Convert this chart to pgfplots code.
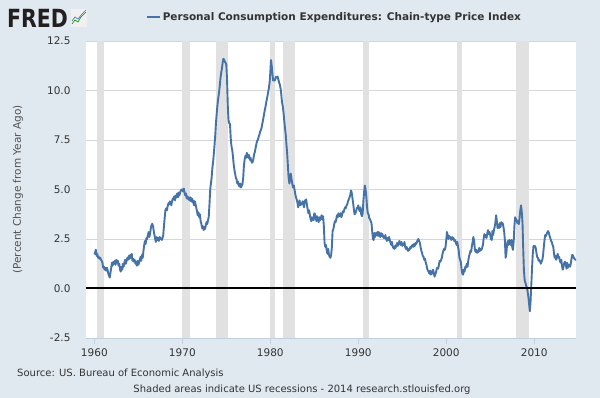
\documentclass[border=0pt]{standalone}
\usepackage{pgfplots}
\pgfplotsset{compat=1.18}
\usepackage{pgfplotstable}
\usepackage{graphicx}
\usepackage{fontspec}
\setmainfont{DejaVu Sans}
\definecolor{bgcol}{HTML}{E1E9F0}
\definecolor{linecol}{HTML}{4572A7}
\definecolor{recess}{HTML}{E1E1E1}
\definecolor{gridcol}{HTML}{D6D6D6}
\definecolor{txt}{HTML}{333333}
\definecolor{axcol}{HTML}{C0D0E0}
\definecolor{fredblack}{HTML}{231F20}

\pgfplotstableread[row sep=\\]{
x y\\
1960.00 1.72\\ 1960.08 1.80\\ 1960.17 1.96\\ 1960.25 1.65\\ 1960.33 1.75\\ 1960.42 1.55\\ 1960.50 1.60\\ 1960.58 1.50\\ 1960.67 1.55\\ 1960.75 1.45\\ 1960.83 1.40\\ 1960.92 1.30\\
1961.00 1.05\\ 1961.08 1.10\\ 1961.17 0.95\\ 1961.25 1.05\\ 1961.33 0.90\\ 1961.42 1.05\\ 1961.50 0.95\\ 1961.58 0.75\\ 1961.67 0.65\\ 1961.75 0.55\\ 1961.83 0.80\\ 1961.92 1.05\\
1962.00 1.30\\ 1962.08 1.15\\ 1962.17 1.35\\ 1962.25 1.25\\ 1962.33 1.40\\ 1962.42 1.20\\ 1962.50 1.45\\ 1962.58 1.30\\ 1962.67 1.40\\ 1962.75 1.15\\ 1962.83 1.25\\ 1962.92 0.95\\
1963.00 0.85\\ 1963.08 1.10\\ 1963.17 0.95\\ 1963.25 1.25\\ 1963.33 1.10\\ 1963.42 1.30\\ 1963.50 1.45\\ 1963.58 1.25\\ 1963.67 1.40\\ 1963.75 1.55\\ 1963.83 1.45\\ 1963.92 1.65\\
1964.00 1.50\\ 1964.08 1.70\\ 1964.17 1.55\\ 1964.25 1.75\\ 1964.33 1.40\\ 1964.42 1.50\\ 1964.50 1.35\\ 1964.58 1.45\\ 1964.67 1.25\\ 1964.75 1.35\\ 1964.83 1.15\\ 1964.92 1.40\\
1965.00 1.20\\ 1965.08 1.30\\ 1965.17 1.45\\ 1965.25 1.60\\ 1965.33 1.40\\ 1965.42 1.70\\ 1965.50 1.55\\ 1965.58 1.90\\ 1965.67 2.20\\ 1965.75 2.40\\ 1965.83 2.25\\ 1965.92 2.55\\
1966.00 2.50\\ 1966.08 2.70\\ 1966.17 2.85\\ 1966.25 2.60\\ 1966.33 2.75\\ 1966.42 3.05\\ 1966.50 3.20\\ 1966.58 3.27\\ 1966.67 3.15\\ 1966.75 2.90\\ 1966.83 2.70\\ 1966.92 2.50\\
1967.00 2.35\\ 1967.08 2.60\\ 1967.17 2.45\\ 1967.25 2.55\\ 1967.33 2.40\\ 1967.42 2.60\\ 1967.50 2.55\\ 1967.58 2.50\\ 1967.67 2.45\\ 1967.75 2.55\\ 1967.83 2.70\\ 1967.92 3.20\\
1968.00 3.60\\ 1968.08 3.95\\ 1968.17 4.05\\ 1968.25 3.95\\ 1968.33 4.15\\ 1968.42 4.30\\ 1968.50 4.25\\ 1968.58 4.40\\ 1968.67 4.30\\ 1968.75 4.20\\ 1968.83 4.40\\ 1968.92 4.55\\
1969.00 4.50\\ 1969.08 4.65\\ 1969.17 4.45\\ 1969.25 4.70\\ 1969.33 4.60\\ 1969.42 4.80\\ 1969.50 4.60\\ 1969.58 4.85\\ 1969.67 4.70\\ 1969.75 4.85\\ 1969.83 4.95\\ 1969.92 5.00\\
1970.00 5.00\\ 1970.08 4.90\\ 1970.17 5.05\\ 1970.25 4.85\\ 1970.33 4.70\\ 1970.42 4.80\\ 1970.50 4.55\\ 1970.58 4.65\\ 1970.67 4.50\\ 1970.75 4.60\\ 1970.83 4.45\\ 1970.92 4.60\\
1971.00 4.40\\ 1971.08 4.55\\ 1971.17 4.35\\ 1971.25 4.45\\ 1971.33 4.20\\ 1971.42 4.40\\ 1971.50 4.25\\ 1971.58 4.10\\ 1971.67 3.90\\ 1971.75 3.70\\ 1971.83 3.85\\ 1971.92 3.60\\
1972.00 3.75\\ 1972.08 3.40\\ 1972.17 3.25\\ 1972.25 3.05\\ 1972.33 3.15\\ 1972.42 2.95\\ 1972.50 3.10\\ 1972.58 3.00\\ 1972.67 3.20\\ 1972.75 3.35\\ 1972.83 3.25\\ 1972.92 3.45\\
1973.00 3.60\\ 1973.08 4.20\\ 1973.17 5.00\\ 1973.25 5.30\\ 1973.33 5.60\\ 1973.42 6.10\\ 1973.50 6.40\\ 1973.58 6.80\\ 1973.67 7.30\\ 1973.75 7.80\\ 1973.83 8.40\\ 1973.92 8.90\\
1974.00 9.30\\ 1974.08 9.60\\ 1974.17 9.90\\ 1974.25 10.20\\ 1974.33 10.60\\ 1974.42 10.90\\ 1974.50 11.10\\ 1974.58 11.40\\ 1974.67 11.60\\ 1974.75 11.55\\ 1974.83 11.45\\ 1974.92 11.40\\
1975.00 11.30\\ 1975.08 10.60\\ 1975.17 9.20\\ 1975.25 8.50\\ 1975.33 8.35\\ 1975.42 8.30\\ 1975.50 7.60\\ 1975.58 7.20\\ 1975.67 7.00\\ 1975.75 6.70\\ 1975.83 6.30\\ 1975.92 6.00\\
1976.00 5.80\\ 1976.08 5.60\\ 1976.17 5.50\\ 1976.25 5.30\\ 1976.33 5.40\\ 1976.42 5.20\\ 1976.50 5.15\\ 1976.58 5.30\\ 1976.67 5.10\\ 1976.75 5.20\\ 1976.83 5.25\\ 1976.92 5.60\\
1977.00 6.20\\ 1977.08 6.50\\ 1977.17 6.70\\ 1977.25 6.60\\ 1977.33 6.85\\ 1977.42 6.70\\ 1977.50 6.60\\ 1977.58 6.75\\ 1977.67 6.50\\ 1977.75 6.60\\ 1977.83 6.45\\ 1977.92 6.35\\
1978.00 6.40\\ 1978.08 6.55\\ 1978.17 6.80\\ 1978.25 6.90\\ 1978.33 7.10\\ 1978.42 7.30\\ 1978.50 7.45\\ 1978.58 7.50\\ 1978.67 7.65\\ 1978.75 7.75\\ 1978.83 7.90\\ 1978.92 8.00\\
1979.00 8.10\\ 1979.08 8.30\\ 1979.17 8.50\\ 1979.25 8.70\\ 1979.33 8.90\\ 1979.42 9.10\\ 1979.50 9.30\\ 1979.58 9.50\\ 1979.67 9.70\\ 1979.75 9.90\\ 1979.83 10.10\\ 1979.92 10.40\\
1980.00 10.90\\ 1980.08 11.54\\ 1980.17 11.20\\ 1980.25 10.80\\ 1980.33 10.50\\ 1980.42 10.55\\ 1980.50 10.50\\ 1980.58 10.60\\ 1980.67 10.70\\ 1980.75 10.65\\ 1980.83 10.70\\ 1980.92 10.55\\
1981.00 10.40\\ 1981.08 10.30\\ 1981.17 10.10\\ 1981.25 9.80\\ 1981.33 9.40\\ 1981.42 9.20\\ 1981.50 8.90\\ 1981.58 8.50\\ 1981.67 8.10\\ 1981.75 7.80\\ 1981.83 7.30\\ 1981.92 6.80\\
1982.00 6.20\\ 1982.08 5.60\\ 1982.17 5.30\\ 1982.25 5.50\\ 1982.33 5.80\\ 1982.42 5.50\\ 1982.50 5.30\\ 1982.58 5.10\\ 1982.67 5.20\\ 1982.75 5.00\\ 1982.83 4.80\\ 1982.92 4.60\\
1983.00 4.50\\ 1983.08 4.35\\ 1983.17 4.10\\ 1983.25 4.30\\ 1983.33 4.45\\ 1983.42 4.20\\ 1983.50 4.30\\ 1983.58 4.25\\ 1983.67 4.40\\ 1983.75 4.30\\ 1983.83 4.10\\ 1983.92 4.45\\
1984.00 4.40\\ 1984.08 4.50\\ 1984.17 4.20\\ 1984.25 4.00\\ 1984.33 3.80\\ 1984.42 3.95\\ 1984.50 3.70\\ 1984.58 3.50\\ 1984.67 3.40\\ 1984.75 3.60\\ 1984.83 3.50\\ 1984.92 3.45\\
1985.00 3.80\\ 1985.08 3.75\\ 1985.17 3.55\\ 1985.25 3.40\\ 1985.33 3.65\\ 1985.42 3.50\\ 1985.50 3.35\\ 1985.58 3.60\\ 1985.67 3.45\\ 1985.75 3.55\\ 1985.83 3.70\\ 1985.92 3.50\\
1986.00 3.65\\ 1986.08 3.20\\ 1986.17 2.30\\ 1986.25 2.10\\ 1986.33 2.20\\ 1986.42 1.90\\ 1986.50 1.75\\ 1986.58 2.00\\ 1986.67 1.70\\ 1986.75 1.60\\ 1986.83 1.55\\ 1986.92 1.70\\
1987.00 2.10\\ 1987.08 2.90\\ 1987.17 3.00\\ 1987.25 3.20\\ 1987.33 3.40\\ 1987.42 3.35\\ 1987.50 3.50\\ 1987.58 3.70\\ 1987.67 3.60\\ 1987.75 3.80\\ 1987.83 3.70\\ 1987.92 3.65\\
1988.00 3.80\\ 1988.08 3.60\\ 1988.17 3.75\\ 1988.25 3.90\\ 1988.33 3.85\\ 1988.42 4.00\\ 1988.50 4.10\\ 1988.58 4.05\\ 1988.67 4.20\\ 1988.75 4.25\\ 1988.83 4.40\\ 1988.92 4.50\\
1989.00 4.60\\ 1989.08 4.70\\ 1989.17 4.95\\ 1989.25 4.85\\ 1989.33 4.60\\ 1989.42 4.30\\ 1989.50 4.00\\ 1989.58 3.75\\ 1989.67 3.80\\ 1989.75 3.90\\ 1989.83 4.05\\ 1989.92 4.10\\
1990.00 4.20\\ 1990.08 4.00\\ 1990.17 3.90\\ 1990.25 4.10\\ 1990.33 3.75\\ 1990.42 3.65\\ 1990.50 3.80\\ 1990.58 4.40\\ 1990.67 4.90\\ 1990.75 5.20\\ 1990.83 5.00\\ 1990.92 4.60\\
1991.00 4.10\\ 1991.08 3.80\\ 1991.17 3.75\\ 1991.25 3.55\\ 1991.33 3.50\\ 1991.42 3.40\\ 1991.50 3.30\\ 1991.58 2.90\\ 1991.67 2.50\\ 1991.75 2.45\\ 1991.83 2.80\\ 1991.92 2.60\\
1992.00 2.80\\ 1992.08 2.70\\ 1992.17 2.85\\ 1992.25 2.65\\ 1992.33 2.85\\ 1992.42 2.75\\ 1992.50 2.60\\ 1992.58 2.80\\ 1992.67 2.65\\ 1992.75 2.75\\ 1992.83 2.60\\ 1992.92 2.55\\
1993.00 2.55\\ 1993.08 2.70\\ 1993.17 2.50\\ 1993.25 2.40\\ 1993.33 2.55\\ 1993.42 2.45\\ 1993.50 2.60\\ 1993.58 2.45\\ 1993.67 2.30\\ 1993.75 2.20\\ 1993.83 2.35\\ 1993.92 2.10\\
1994.00 2.05\\ 1994.08 2.00\\ 1994.17 2.15\\ 1994.25 2.05\\ 1994.33 2.20\\ 1994.42 2.30\\ 1994.50 2.15\\ 1994.58 2.25\\ 1994.67 2.40\\ 1994.75 2.30\\ 1994.83 2.20\\ 1994.92 2.35\\
1995.00 2.15\\ 1995.08 2.25\\ 1995.17 2.20\\ 1995.25 2.35\\ 1995.33 2.10\\ 1995.42 2.00\\ 1995.50 2.10\\ 1995.58 1.95\\ 1995.67 1.90\\ 1995.75 2.00\\ 1995.83 1.95\\ 1995.92 2.10\\
1996.00 2.05\\ 1996.08 2.15\\ 1996.17 2.20\\ 1996.25 2.10\\ 1996.33 2.25\\ 1996.42 2.15\\ 1996.50 2.30\\ 1996.58 2.25\\ 1996.67 2.35\\ 1996.75 2.45\\ 1996.83 2.50\\ 1996.92 2.40\\
1997.00 2.30\\ 1997.08 2.10\\ 1997.17 1.90\\ 1997.25 1.80\\ 1997.33 1.65\\ 1997.42 1.60\\ 1997.50 1.45\\ 1997.58 1.50\\ 1997.67 1.30\\ 1997.75 1.20\\ 1997.83 1.00\\ 1997.92 0.90\\
1998.00 0.85\\ 1998.08 0.75\\ 1998.17 0.90\\ 1998.25 0.70\\ 1998.33 0.85\\ 1998.42 0.75\\ 1998.50 0.95\\ 1998.58 0.80\\ 1998.67 0.60\\ 1998.75 0.70\\ 1998.83 0.80\\ 1998.92 1.00\\
1999.00 1.05\\ 1999.08 1.00\\ 1999.17 1.20\\ 1999.25 1.40\\ 1999.33 1.35\\ 1999.42 1.45\\ 1999.50 1.55\\ 1999.58 1.75\\ 1999.67 1.90\\ 1999.75 2.00\\ 1999.83 1.95\\ 1999.92 2.10\\
2000.00 2.45\\ 2000.08 2.85\\ 2000.17 2.70\\ 2000.25 2.50\\ 2000.33 2.65\\ 2000.42 2.60\\ 2000.50 2.55\\ 2000.58 2.45\\ 2000.67 2.60\\ 2000.75 2.50\\ 2000.83 2.55\\ 2000.92 2.40\\
2001.00 2.45\\ 2001.08 2.35\\ 2001.17 2.20\\ 2001.25 2.35\\ 2001.33 2.15\\ 2001.42 1.90\\ 2001.50 1.55\\ 2001.58 1.45\\ 2001.67 1.30\\ 2001.75 0.95\\ 2001.83 0.75\\ 2001.92 0.70\\
2002.00 0.95\\ 2002.08 0.85\\ 2002.17 1.10\\ 2002.25 1.05\\ 2002.33 1.25\\ 2002.42 1.10\\ 2002.50 1.40\\ 2002.58 1.60\\ 2002.67 1.75\\ 2002.75 1.90\\ 2002.83 1.85\\ 2002.92 2.15\\
2003.00 2.35\\ 2003.08 2.60\\ 2003.17 2.40\\ 2003.25 2.00\\ 2003.33 1.85\\ 2003.42 1.95\\ 2003.50 1.80\\ 2003.58 1.90\\ 2003.67 1.85\\ 2003.75 2.05\\ 2003.83 1.90\\ 2003.92 2.00\\
2004.00 1.95\\ 2004.08 2.05\\ 2004.17 2.20\\ 2004.25 2.50\\ 2004.33 2.75\\ 2004.42 2.60\\ 2004.50 2.70\\ 2004.58 2.55\\ 2004.67 2.80\\ 2004.75 2.95\\ 2004.83 2.75\\ 2004.92 2.85\\
2005.00 2.70\\ 2005.08 2.50\\ 2005.17 2.45\\ 2005.25 2.90\\ 2005.33 2.70\\ 2005.42 2.95\\ 2005.50 3.10\\ 2005.58 3.30\\ 2005.67 3.70\\ 2005.75 3.40\\ 2005.83 3.05\\ 2005.92 3.20\\
2006.00 3.05\\ 2006.08 3.30\\ 2006.17 3.10\\ 2006.25 3.35\\ 2006.33 3.25\\ 2006.42 3.30\\ 2006.50 3.10\\ 2006.58 2.90\\ 2006.67 2.40\\ 2006.75 1.55\\ 2006.83 1.75\\ 2006.92 2.25\\
2007.00 2.40\\ 2007.08 2.20\\ 2007.17 2.45\\ 2007.25 2.35\\ 2007.33 2.20\\ 2007.42 2.45\\ 2007.50 2.10\\ 2007.58 1.95\\ 2007.67 2.40\\ 2007.75 3.15\\ 2007.83 3.60\\ 2007.92 3.50\\
2008.00 3.45\\ 2008.08 3.30\\ 2008.17 3.40\\ 2008.25 3.25\\ 2008.33 3.55\\ 2008.42 3.95\\ 2008.50 4.20\\ 2008.58 3.90\\ 2008.67 3.30\\ 2008.75 2.00\\ 2008.83 0.90\\ 2008.92 0.40\\
2009.00 0.30\\ 2009.08 0.15\\ 2009.17 0.05\\ 2009.25 -0.15\\ 2009.33 -0.40\\ 2009.42 -0.80\\ 2009.50 -1.15\\ 2009.58 -0.70\\ 2009.67 0.20\\ 2009.75 1.00\\ 2009.83 1.70\\ 2009.92 2.15\\
2010.00 2.10\\ 2010.08 2.15\\ 2010.17 2.05\\ 2010.25 1.80\\ 2010.33 1.60\\ 2010.42 1.55\\ 2010.50 1.40\\ 2010.58 1.45\\ 2010.67 1.35\\ 2010.75 1.25\\ 2010.83 1.35\\ 2010.92 1.45\\
2011.00 1.65\\ 2011.08 2.05\\ 2011.17 2.45\\ 2011.25 2.70\\ 2011.33 2.65\\ 2011.42 2.75\\ 2011.50 2.85\\ 2011.58 2.90\\ 2011.67 2.80\\ 2011.75 2.65\\ 2011.83 2.55\\ 2011.92 2.40\\
2012.00 2.35\\ 2012.08 2.20\\ 2012.17 2.10\\ 2012.25 1.75\\ 2012.33 1.55\\ 2012.42 1.65\\ 2012.50 1.45\\ 2012.58 1.60\\ 2012.67 1.75\\ 2012.75 1.55\\ 2012.83 1.60\\ 2012.92 1.40\\
2013.00 1.30\\ 2013.08 1.45\\ 2013.17 1.10\\ 2013.25 0.95\\ 2013.33 1.10\\ 2013.42 1.30\\ 2013.50 1.35\\ 2013.58 1.25\\ 2013.67 1.00\\ 2013.75 1.30\\ 2013.83 1.05\\ 2013.92 1.20\\
2014.00 1.20\\ 2014.08 1.10\\ 2014.17 1.30\\ 2014.25 1.55\\ 2014.33 1.70\\ 2014.42 1.65\\ 2014.50 1.55\\ 2014.58 1.50\\ 2014.67 1.45\\ 2014.75 1.45\\
}\pce

\begin{document}
\begin{tikzpicture}[x=1pt,y=1pt]
\fill[bgcol] (0,0) rectangle (600,398);
\begin{axis}[
  at={(86pt,60pt)}, anchor=south west,
  scale only axis, width=490pt, height=297pt,
  xmin=1959.05, xmax=2014.75, ymin=-2.5, ymax=12.5,
  axis background/.style={fill=white},
  axis lines*=left,
  x axis line style={draw=axcol, line width=0.8pt},
  y axis line style={draw=none},
  xtick={1960,1970,1980,1990,2000,2010},
  ytick={-2.5,0,2.5,5,7.5,10,12.5},
  ymajorgrids, grid style={draw=gridcol, line width=0.8pt},
  y tick style={draw=none},
  x tick style={draw=axcol, line width=0.8pt},
  major tick length=6pt, xtick align=outside,
  tick label style={font=\fontsize{10.5}{12}\selectfont, text=txt},
  /pgf/number format/assume math mode=true,
  xticklabel style={/pgf/number format/1000 sep={}, yshift=-1pt},
  yticklabel style={/pgf/number format/fixed, /pgf/number format/fixed zerofill, /pgf/number format/precision=1, xshift=-12pt},
  ylabel={(Percent Change from Year Ago)},
  every axis y label/.style={at={(axis description cs:-0.139,0.5)}, rotate=90, anchor=center, font=\fontsize{10.5}{12}\selectfont, text=txt!85!white},
  legend style={at={(axis description cs:0.507,1.081)}, anchor=center, draw=none, fill=none, font=\bfseries\fontsize{10.5}{12}\selectfont, text=txt, inner sep=0pt},
  legend image code/.code={\draw[#1] (0pt,0pt) -- (13pt,0pt);},
]
\addplot[fill=recess, draw=none, forget plot] coordinates {(1960.29,-2.5) (1961.08,-2.5) (1961.08,12.5) (1960.29,12.5)} -- cycle;
\addplot[fill=recess, draw=none, forget plot] coordinates {(1969.92,-2.5) (1970.83,-2.5) (1970.83,12.5) (1969.92,12.5)} -- cycle;
\addplot[fill=recess, draw=none, forget plot] coordinates {(1973.83,-2.5) (1975.17,-2.5) (1975.17,12.5) (1973.83,12.5)} -- cycle;
\addplot[fill=recess, draw=none, forget plot] coordinates {(1980.00,-2.5) (1980.50,-2.5) (1980.50,12.5) (1980.00,12.5)} -- cycle;
\addplot[fill=recess, draw=none, forget plot] coordinates {(1981.50,-2.5) (1982.83,-2.5) (1982.83,12.5) (1981.50,12.5)} -- cycle;
\addplot[fill=recess, draw=none, forget plot] coordinates {(1990.50,-2.5) (1991.17,-2.5) (1991.17,12.5) (1990.50,12.5)} -- cycle;
\addplot[fill=recess, draw=none, forget plot] coordinates {(2001.17,-2.5) (2001.83,-2.5) (2001.83,12.5) (2001.17,12.5)} -- cycle;
\addplot[fill=recess, draw=none, forget plot] coordinates {(2007.92,-2.5) (2009.42,-2.5) (2009.42,12.5) (2007.92,12.5)} -- cycle;
\addplot[linecol, line width=1.9pt, line join=round] table[x=x, y=y] {\pce};
\addlegendentry{Personal Consumption Expenditures: Chain-type Price Index}
\addplot[black, line width=2pt, forget plot] coordinates {(1959.05,0) (2014.75,0)};
\end{axis}
% FRED logo
\node[anchor=west, inner sep=0pt, text=fredblack] at (7,380) {\scalebox{0.82}[1]{\fontsize{25}{25}\selectfont\bfseries FRED}};
\fill[white!88!gray] (71,371) rectangle (87,389);
\draw[green!55!black, line width=0.6pt] (72,374) -- (75,378) -- (78,376) -- (81,381) -- (86,386);
\draw[linecol, line width=0.6pt] (72,377) -- (75,381) -- (78,379) -- (82,384) -- (86,388);
% footer
\node[anchor=west, inner sep=0pt, text=txt, font=\fontsize{10}{12}\selectfont] at (17,24) {Source: US. Bureau of Economic Analysis};
\node[anchor=center, inner sep=0pt, text=txt, font=\fontsize{10}{12}\selectfont] at (302,8) {Shaded areas indicate US recessions - 2014 research.stlouisfed.org};
\pgfresetboundingbox
\path[use as bounding box] (0,0) rectangle (600,398);
\end{tikzpicture}
\end{document}
